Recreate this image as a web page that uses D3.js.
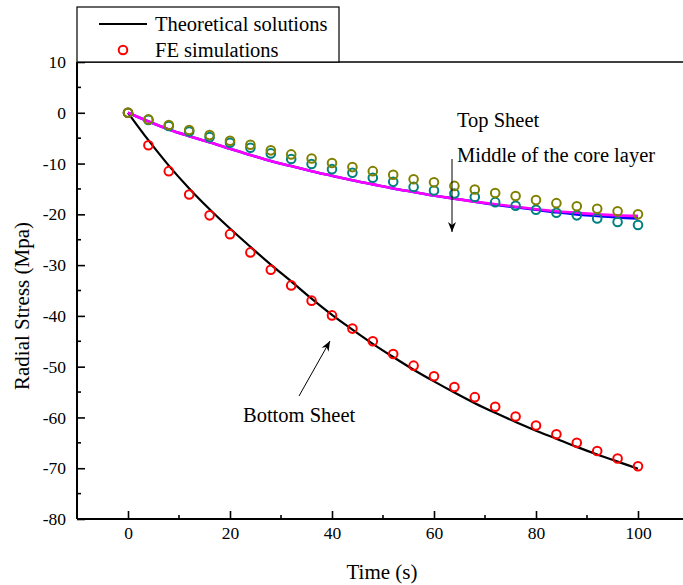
<!DOCTYPE html>
<html>
<head>
<meta charset="utf-8">
<script src="https://cdnjs.cloudflare.com/ajax/libs/d3/7.8.5/d3.min.js"></script>
<style>
body { margin: 0; background: #fff; }
svg { font-family: "Times New Roman", "Liberation Serif", serif; }
</style>
</head>
<body>
<svg></svg>
<script>
var time = [0, 4, 8, 12, 16, 20, 24, 28, 32, 36, 40, 44, 48, 52, 56, 60, 64, 68, 72, 76, 80, 84, 88, 92, 96, 100];

// FE simulations
var feBottom = [0, -6.4, -11.5, -16.1, -20.2, -23.9, -27.5, -30.9, -34.0, -37.0, -39.9, -42.5, -45.0, -47.5, -49.8, -51.9, -54.0, -56.0, -57.9, -59.8, -61.6, -63.3, -65.0, -66.6, -68.1, -69.6];
var feTop = [0, -1.3, -2.4, -3.4, -4.4, -5.5, -6.3, -7.4, -8.2, -9.0, -9.9, -10.7, -11.5, -12.2, -13.1, -13.7, -14.4, -15.1, -15.8, -16.4, -17.2, -17.8, -18.4, -18.9, -19.4, -20.0];
var feMiddle = [0, -1.4, -2.6, -3.7, -4.8, -5.9, -6.9, -8.0, -9.1, -10.1, -11.1, -11.8, -12.8, -13.6, -14.6, -15.3, -15.9, -16.6, -17.6, -18.3, -19.1, -19.7, -20.2, -20.8, -21.5, -22.1];

// theoretical solutions
var thBottom = [0, -5.4, -10.4, -14.9, -19.0, -22.8, -26.4, -29.9, -33.2, -36.6, -39.8, -42.7, -45.5, -48.1, -50.6, -52.9, -55.1, -57.2, -59.1, -60.9, -62.6, -64.2, -65.8, -67.3, -68.7, -70.1];
var thTop = [0, -1.7, -3.3, -4.6, -5.8, -7.1, -8.3, -9.5, -10.5, -11.5, -12.4, -13.3, -14.1, -14.9, -15.6, -16.3, -16.9, -17.5, -18.0, -18.5, -19.0, -19.4, -19.7, -20.0, -20.2, -20.3];
var thMiddle = [0, -1.7, -3.3, -4.6, -5.8, -7.1, -8.3, -9.5, -10.5, -11.5, -12.4, -13.3, -14.1, -14.9, -15.6, -16.3, -16.9, -17.5, -18.1, -18.6, -19.1, -19.6, -20.0, -20.3, -20.6, -20.8];

var xTicks = [0, 20, 40, 60, 80, 100];
var yTicks = [10, 0, -10, -20, -30, -40, -50, -60, -70, -80];

var svgWidth = 683, svgHeight = 585;
var padLeft = 77, padTop = 62, padBottom = 519;
var labelSize = "20.5px";

var svg = d3.select('svg')
  .attr('width', svgWidth)
  .attr('height', svgHeight);

var x = d3.scaleLinear().domain([-10, 110]).range([padLeft, 689]);
var y = d3.scaleLinear().domain([-80, 10]).range([padBottom, padTop]);

// frame top line
svg.append("line")
  .attr("x1", padLeft).attr("x2", svgWidth)
  .attr("y1", padTop).attr("y2", padTop)
  .attr("stroke", "#000").attr("stroke-width", 1.6);

// axes
var xAxis = d3.axisBottom(x).tickValues(xTicks).tickSizeInner(-8).tickSizeOuter(0).tickPadding(8)
  .tickFormat(function (d) { return String(d); });
var gx = svg.append("g")
  .attr("transform", "translate(0," + padBottom + ")")
  .call(xAxis);

var yAxis = d3.axisLeft(y).tickValues(yTicks).tickSizeInner(-8).tickSizeOuter(0).tickPadding(11)
  .tickFormat(function (d) { return String(d); });
var gy = svg.append("g")
  .attr("transform", "translate(" + padLeft + ",0)")
  .call(yAxis);

[gx, gy].forEach(function (g) {
  g.select(".domain").attr("stroke", "#000").attr("stroke-width", 2);
  g.selectAll(".tick line").attr("stroke", "#000").attr("stroke-width", 1.6);
  g.selectAll(".tick text")
    .attr("font-size", "17.5px")
    .attr("font-family", "\"Times New Roman\", \"Liberation Serif\", serif")
    .attr("fill", "#000");
});
gx.select(".domain").attr("d", "M" + padLeft + ",0H" + svgWidth);
gy.select(".domain").attr("d", "M0," + padTop + "V" + padBottom);

// minor ticks
var xMinor = [-10, 10, 30, 50, 70, 90, 110];
svg.append("g").selectAll("line")
  .data(xMinor)
  .enter()
  .append("line")
  .attr("x1", function (d) { return x(d); })
  .attr("x2", function (d) { return x(d); })
  .attr("y1", padBottom)
  .attr("y2", padBottom - 4)
  .attr("stroke", "#000").attr("stroke-width", 1.6);

var yMinor = [5, -5, -15, -25, -35, -45, -55, -65, -75];
svg.append("g").selectAll("line")
  .data(yMinor)
  .enter()
  .append("line")
  .attr("x1", padLeft)
  .attr("x2", padLeft + 4)
  .attr("y1", function (d) { return y(d); })
  .attr("y2", function (d) { return y(d); })
  .attr("stroke", "#000").attr("stroke-width", 1.6);

// axis titles
svg.append("text")
  .attr("x", 382).attr("y", 579)
  .attr("text-anchor", "middle")
  .attr("font-size", "21px")
  .text("Time (s)");

svg.append("text")
  .attr("transform", "translate(29,306) rotate(-90)")
  .attr("text-anchor", "middle")
  .attr("font-size", "21px")
  .text("Radial Stress (Mpa)");

// theoretical lines
function lineOf(vals) {
  return d3.line()
    .x(function (d, i) { return x(time[i]); })
    .y(function (d) { return y(d); })
    .curve(d3.curveMonotoneX)(vals);
}

svg.append("path").attr("d", lineOf(thBottom))
  .attr("fill", "none").attr("stroke", "#000").attr("stroke-width", 2.2);
svg.append("path").attr("d", lineOf(thMiddle))
  .attr("fill", "none").attr("stroke", "#0000ff").attr("stroke-width", 2.6);
svg.append("path").attr("d", lineOf(thTop))
  .attr("fill", "none").attr("stroke", "#ff00ff").attr("stroke-width", 2.6);

// FE points
function circles(vals, color) {
  svg.append("g").selectAll("circle")
    .data(vals)
    .enter()
    .append("circle")
    .attr("cx", function (d, i) { return x(time[i]); })
    .attr("cy", function (d) { return y(d); })
    .attr("r", 4.3)
    .attr("fill", "none")
    .attr("stroke", color)
    .attr("stroke-width", 2);
}
circles(feBottom, "#ff0000");
circles(feMiddle, "#008080");
circles(feTop, "#808000");

// annotations
svg.append("text").attr("x", 457).attr("y", 127).attr("font-size", labelSize).text("Top Sheet");
svg.append("text").attr("x", 457).attr("y", 162).attr("font-size", labelSize).text("Middle of the core layer");
svg.append("text").attr("x", 243).attr("y", 422).attr("font-size", labelSize).text("Bottom Sheet");

var defs = svg.append("defs");
defs.append("marker")
  .attr("id", "arrow")
  .attr("viewBox", "0 0 10 10")
  .attr("refX", 10).attr("refY", 5)
  .attr("markerWidth", 10).attr("markerHeight", 10)
  .attr("markerUnits", "userSpaceOnUse")
  .attr("orient", "auto")
  .append("path")
  .attr("d", "M0,1 L10,5 L0,9 L3,5 Z")
  .attr("fill", "#000");

svg.append("line")
  .attr("x1", 452).attr("y1", 159).attr("x2", 452).attr("y2", 232)
  .attr("stroke", "#000").attr("stroke-width", 1)
  .attr("marker-end", "url(#arrow)");
svg.append("line")
  .attr("x1", 299).attr("y1", 396).attr("x2", 330).attr("y2", 341)
  .attr("stroke", "#000").attr("stroke-width", 1)
  .attr("marker-end", "url(#arrow)");

// legend
svg.append("rect")
  .attr("x", padLeft).attr("y", 7)
  .attr("width", 262).attr("height", padTop - 7)
  .attr("fill", "#fff").attr("stroke", "#000").attr("stroke-width", 1.2);
svg.append("line")
  .attr("x1", 99).attr("x2", 147).attr("y1", 24).attr("y2", 24)
  .attr("stroke", "#000").attr("stroke-width", 2.2);
svg.append("circle")
  .attr("cx", 123).attr("cy", 50).attr("r", 4.3)
  .attr("fill", "none").attr("stroke", "#ff0000").attr("stroke-width", 2);
svg.append("text").attr("x", 155).attr("y", 31).attr("font-size", labelSize).text("Theoretical solutions");
svg.append("text").attr("x", 155).attr("y", 57).attr("font-size", labelSize).text("FE simulations");
</script>
</body>
</html>
